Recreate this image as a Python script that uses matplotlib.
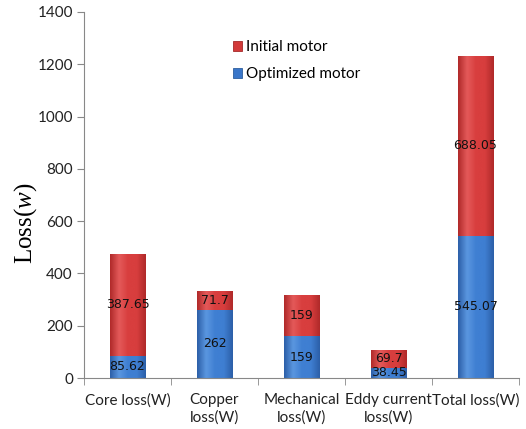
import matplotlib
matplotlib.use("Agg")
import matplotlib.pyplot as plt
import numpy as np
from matplotlib.colors import LinearSegmentedColormap

categories = ["Core loss(W)", "Copper\nloss(W)", "Mechanical\nloss(W)",
              "Eddy current\nloss(W)", "Total loss(W)"]
optimized = [85.62, 262, 159, 38.45, 545.07]
initial = [387.65, 71.7, 159, 69.7, 688.05]
optimized_labels = ["85.62", "262", "159", "38.45", "545.07"]
initial_labels = ["387.65", "71.7", "159", "69.7", "688.05"]
yticks = [0, 200, 400, 600, 800, 1000, 1200, 1400]

plt.rcParams['font.family'] = ['Lato', 'DejaVu Sans']
plt.rcParams['mathtext.fontset'] = 'custom'
plt.rcParams['mathtext.rm'] = 'Liberation Serif'
plt.rcParams['mathtext.it'] = 'Liberation Serif:italic'

fig = plt.figure(figsize=(5.26, 4.29), dpi=100)
ax = fig.add_axes([84/526, 1 - 378/429, (519 - 84)/526, (378 - 12)/429])

x = np.arange(len(categories))
width = 0.41
blue = "#3a76c9"
red = "#d23a3a"
b1 = ax.bar(x, optimized, width, color=blue, edgecolor="#2d5e9e", linewidth=0.6,
            label="Optimized motor", zorder=2)
b2 = ax.bar(x, initial, width, bottom=optimized, color=red, edgecolor="#a52a2a",
            linewidth=0.6, label="Initial motor", zorder=2)

# horizontal shading across each bar for a rounded look
def shade(bars, dark, mid, light):
    cmap = LinearSegmentedColormap.from_list("s", [dark, light, mid, mid, dark])
    grad = np.linspace(0, 1, 64).reshape(1, -1)
    for p in bars:
        x0, y0 = p.get_x(), p.get_y()
        w, h = p.get_width(), p.get_height()
        im = ax.imshow(grad, cmap=cmap, extent=(x0, x0 + w, y0, y0 + h),
                       aspect="auto", zorder=2.5, interpolation="bicubic")
        im.set_clip_path(p)

shade(b1, "#2c5fa8", "#3f7fd2", "#5b97e0")
shade(b2, "#b02a2a", "#d83e3e", "#e45a5a")

for i in range(len(x)):
    ax.text(x[i], optimized[i] / 2, optimized_labels[i], ha="center", va="center",
            fontsize=9, color="#111111", zorder=4, family=['DejaVu Sans'])
    ax.text(x[i], optimized[i] + initial[i] / 2, initial_labels[i], ha="center",
            va="center", fontsize=9, color="#111111", zorder=4, family=['DejaVu Sans'])

ax.set_xlim(-0.5, len(x) - 0.5)
ax.set_ylim(0, 1400)
ax.set_yticks(yticks)
ax.set_yticklabels([str(v) for v in yticks], fontsize=11, color="#222222")
ax.set_xticks(x)
ax.set_xticklabels(categories, fontsize=11, color="#222222", linespacing=1.3)
ax.tick_params(axis="x", length=0, pad=11)
ax.set_xticks(np.arange(len(x) + 1) - 0.5, minor=True)
ax.tick_params(axis="x", which="minor", length=5, color="#888888")
ax.tick_params(axis="y", length=5, color="#888888", pad=3)
for s in ["top", "right"]:
    ax.spines[s].set_visible(False)
for s in ["left", "bottom"]:
    ax.spines[s].set_color("#888888")

fig.text(26/526, 1 - 223/429, r"Loss($w$)", rotation=90, ha="center", va="center",
         fontsize=18, family=['Liberation Serif'])

h, l = ax.get_legend_handles_labels()
leg = ax.legend(h[::-1], l[::-1], loc="upper left", bbox_to_anchor=(0.31, 0.96),
                frameon=False, fontsize=11, handlelength=0.6, handleheight=0.6,
                handletextpad=0.3, labelspacing=0.85)

fig.savefig("out.png", dpi=100)
